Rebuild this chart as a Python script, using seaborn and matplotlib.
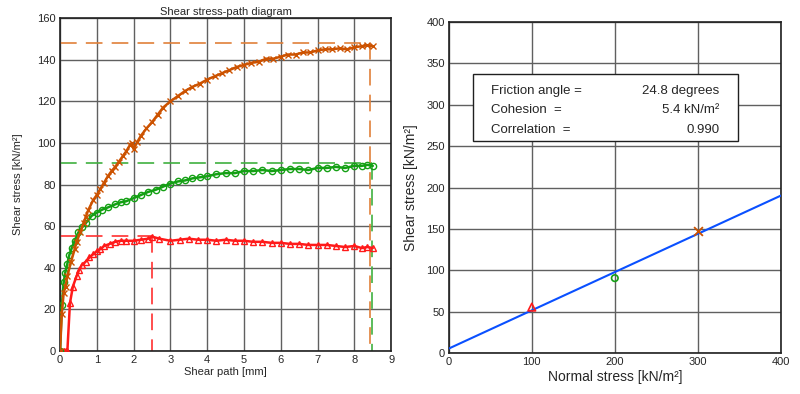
import matplotlib
matplotlib.use('Agg')
import matplotlib.pyplot as plt
import numpy as np
import pandas as pd
import seaborn as sns
from matplotlib.patches import Rectangle

sns.set_style('white')
plt.rcParams['font.family'] = ['Liberation Sans', 'DejaVu Sans']

# %%
'''Data'''

# shear path [mm] / shear stress [kN/m2], sigma_n = 300
path_300 = [0, 0.05, 0.1, 0.15, 0.2, 0.3, 0.4, 0.45, 0.55, 0.64, 0.7, 0.77, 0.9, 1.0, 1.1, 1.2,
            1.3, 1.4, 1.5, 1.6, 1.7, 1.8, 1.9, 1.95, 2.0, 2.1, 2.2, 2.35, 2.5, 2.65, 2.8, 3.0,
            3.2, 3.4, 3.6, 3.8, 4.0, 4.2, 4.4, 4.6, 4.8, 5.0, 5.2, 5.4, 5.6, 5.8, 6.0, 6.2,
            6.4, 6.6, 6.8, 7.0, 7.2, 7.4, 7.6, 7.8, 8.0, 8.2, 8.35, 8.5]
tau_300 = [0, 18, 28, 31, 36, 43, 49, 52.5, 57, 61.5, 64.5, 67.8, 72.5, 75, 78, 81,
           84, 86.5, 88.5, 91, 93.5, 96, 99, 100, 97, 100.5, 103.5, 107, 110, 113.5, 117, 120,
           122.5, 125, 127, 128.5, 130.5, 132, 133.5, 135, 136.5, 137.5, 138.5, 139, 140.5, 140.5, 141.5, 142.5,
           142.5, 143.5, 143.5, 144.5, 145, 145, 145.5, 145, 146, 146.5, 147, 146.5]

# sigma_n = 200
path_200 = [0, 0.05, 0.1, 0.14, 0.2, 0.25, 0.32, 0.4, 0.5, 0.6, 0.7, 0.86, 1.0, 1.15, 1.3, 1.5,
            1.65, 1.8, 2.0, 2.2, 2.4, 2.6, 2.8, 3.0, 3.2, 3.4, 3.6, 3.8, 4.0, 4.25, 4.5, 4.75,
            5.0, 5.25, 5.5, 5.75, 6.0, 6.25, 6.5, 6.75, 7.0, 7.25, 7.5, 7.75, 8.0, 8.2, 8.35, 8.5]
tau_200 = [0, 22, 33, 37.5, 42, 46, 49.5, 53, 57, 59.5, 61.5, 65, 66.5, 68, 69, 70.5,
           71.5, 72, 73.5, 75, 76.5, 77.5, 79, 80.5, 81.5, 82, 83, 83.5, 84, 85, 85.5, 85.5,
           86.5, 86.5, 87, 86.5, 87, 87.5, 87.5, 87, 88, 88, 88.5, 88, 89, 89, 89.5, 89]

# sigma_n = 100
path_100 = [0, 0.1, 0.15, 0.2, 0.27, 0.35, 0.45, 0.52, 0.59, 0.7, 0.8, 0.9, 1.0, 1.1, 1.2, 1.35,
            1.5, 1.65, 1.8, 2.0, 2.2, 2.4, 2.5, 2.7, 3.0, 3.25, 3.5, 3.75, 4.0, 4.25, 4.5, 4.75,
            5.0, 5.25, 5.5, 5.75, 6.0, 6.25, 6.5, 6.75, 7.0, 7.25, 7.5, 7.75, 8.0, 8.2, 8.35, 8.5]
tau_100 = [0, 0, 0, 0, 23, 31, 36, 39, 41.3, 43, 45, 46.5, 48, 49, 50.5, 51.5,
           52.5, 53, 53, 53, 53.5, 54, 55, 54, 53, 53.5, 54, 53.5, 53.5, 53, 53.5, 53,
           53, 52.5, 52.5, 52, 52, 51.5, 51.5, 51, 51, 51, 50.5, 50, 50.5, 49.5, 50, 49.5]

# peak values
normal_stress = [100, 200, 300]
peak_tau = [55.5, 90.5, 148]
peak_path = [2.5, 8.48, 8.43]

friction_angle = 24.8
cohesion = 5.4
correlation = 0.990

colors = ['#ff1a1a', '#14a014', '#cc5200']
dash_colors = ['#ff3030', '#40b040', '#e0803a']
markers = ['^', 'o', 'x']

# %%
'''Figure'''

fig = plt.figure(figsize=(8, 3.94), dpi=100)
ax1 = fig.add_axes([0.075, 0.109, 0.414, 0.845])
ax2 = fig.add_axes([0.561, 0.104, 0.415, 0.840])

grid_kw = dict(color='#606060', linewidth=1.0)

# %%
'''Shear stress-path diagram'''

curves = [(path_100, tau_100), (path_200, tau_200), (path_300, tau_300)]
for (px, py), c, m in zip(curves, colors, markers):
    df = pd.DataFrame({'path': px, 'tau': py})
    face = c if m == 'x' else 'none'
    sns.lineplot(data=df, x='path', y='tau', ax=ax1, color=c, marker=m, markersize=4.5,
                 markerfacecolor=face, markeredgecolor=c, markeredgewidth=1.0,
                 linewidth=1.8, sort=False, estimator=None, zorder=3)

for px, py, c in zip(peak_path, peak_tau, dash_colors):
    ax1.plot([0, px], [py, py], color=c, linewidth=1.2, linestyle=(0, (10, 5.5)), zorder=2)
    ax1.plot([px, px], [py, 0], color=c, linewidth=1.2, linestyle=(0, (10, 5.5)), zorder=2)

ax1.set_xlim(0, 9)
ax1.set_ylim(0, 160)
ax1.set_xticks(range(0, 10))
ax1.set_yticks(range(0, 161, 20))
ax1.grid(True, **grid_kw)
ax1.set_axisbelow(True)
ax1.set_xlabel('Shear path [mm]', fontsize=8, labelpad=1)
ax1.set_ylabel('Shear stress [kN/m²]', fontsize=8, labelpad=10)
ax1.set_title('Shear stress-path diagram', fontsize=8, pad=2)
ax1.tick_params(labelsize=8, length=0, pad=3)

# %%
'''Failure line'''

pts = pd.DataFrame({'sigma': normal_stress, 'tau': peak_tau})
for i in range(3):
    if markers[i] == 'x':
        ax2.scatter(pts['sigma'][i], pts['tau'][i], marker='x', color=colors[i], s=40,
                    linewidths=1.3, zorder=4)
    else:
        ax2.scatter(pts['sigma'][i], pts['tau'][i], marker=markers[i], facecolors='none',
                    edgecolors=colors[i], s=30 if markers[i] == '^' else 22, linewidths=1.2, zorder=4)

line_x = [0, 400]
line_y = [cohesion + np.tan(np.radians(friction_angle)) * v for v in line_x]
sns.lineplot(x=line_x, y=line_y, ax=ax2, color='#0a50ff', linewidth=1.5, zorder=3)

ax2.set_xlim(0, 400)
ax2.set_ylim(0, 400)
ax2.set_xticks(range(0, 401, 100))
ax2.set_yticks(range(0, 401, 50))
ax2.grid(True, **grid_kw)
ax2.set_axisbelow(True)
ax2.set_xlabel('Normal stress [kN/m²]', fontsize=10, labelpad=2)
ax2.set_ylabel('Shear stress [kN/m²]', fontsize=10, labelpad=6)
ax2.tick_params(labelsize=8, length=0, pad=3)

ax2.add_patch(Rectangle((29, 256), 319, 81, facecolor='white', edgecolor='#202020',
                        linewidth=1.0, zorder=5))
rows = ['Friction angle =', 'Cohesion  =', 'Correlation  =']
vals = [f'{friction_angle} degrees', f'{cohesion} kN/m²', f'{correlation:.3f}']
for r, v, yy in zip(rows, vals, [317, 293.5, 270]):
    ax2.text(51, yy, r, fontsize=9.5, va='center', ha='left', zorder=6)
    ax2.text(326, yy, v, fontsize=9.5, va='center', ha='right', zorder=6)

for ax in (ax1, ax2):
    for s in ax.spines.values():
        s.set_color('#202020')
        s.set_linewidth(1.2)

fig.savefig('out.png', dpi=100)
